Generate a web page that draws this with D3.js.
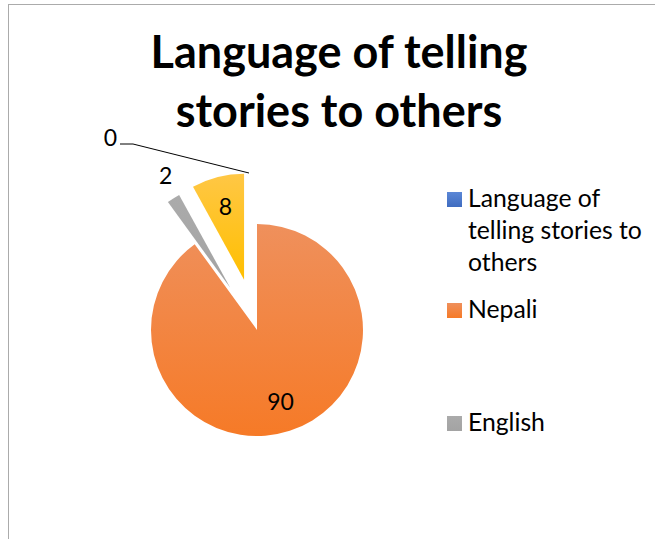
<!DOCTYPE html>
<html>
<head>
<meta charset="utf-8">
<script src="https://cdn.jsdelivr.net/npm/d3@7"></script>
<style>
  body { margin: 0; background: #fff; }
  svg text { font-family: Lato, "Open Sans", sans-serif; fill: #000; }
</style>
</head>
<body>
<svg id="chart" width="655" height="539"></svg>
<script>
// datos del gráfico
const titleLines = ["Language of telling", "stories to others"];
const categories = ["Language of telling stories to others", "Nepali", "English", "Other"];
const values = [0, 90, 2, 8];
const legendLines = [["Language of", "telling stories to", "others"], ["Nepali"], ["English"]];

const width = 655, height = 539;
const center = {x: 257, y: 330};
const radius = 106;

const svg = d3.select("#chart");

// marco del gráfico
svg.append("rect")
  .attr("x", 8.5).attr("y", 4.5)
  .attr("width", width + 20).attr("height", height + 20)
  .attr("fill", "#fff")
  .attr("stroke", "#ababab")
  .attr("stroke-width", 1);

// degradados tipo Excel
const defs = svg.append("defs");
const gradients = [
  ["g0", "#5b87d6", "#3f6cc0"],
  ["g1", "#ef905c", "#f67a27"],
  ["g2", "#ababab", "#a3a3a3"],
  ["g3", "#ffc745", "#ffbf00"]
];
gradients.forEach(([id, top, bottom]) => {
  const g = defs.append("linearGradient").attr("id", id)
    .attr("x1", 0).attr("y1", 0).attr("x2", 0).attr("y2", 1);
  g.append("stop").attr("offset", "0%").attr("stop-color", top);
  g.append("stop").attr("offset", "100%").attr("stop-color", bottom);
});

// título
const title = svg.append("g");
titleLines.forEach((line, i) => {
  title.append("text")
    .attr("x", 339)
    .attr("y", 68 + i * 59)
    .attr("text-anchor", "middle")
    .attr("font-weight", "bold")
    .attr("font-size", 40)
    .text(line);
});
// ajustar al ancho de la primera línea
const t0 = title.select("text").node();
const fit = 377 / t0.getComputedTextLength();
title.selectAll("text").attr("font-size", 40 * fit);

// pastel
const pie = d3.pie().sort(null).value(d => d)(values);
const arc = d3.arc().innerRadius(0).outerRadius(radius);
const explode = [50, 0, 50, 52];
const labelRadius = [0, 76, 126, 75];

function offset(d, dist) {
  const a = (d.startAngle + d.endAngle) / 2;
  return [Math.sin(a) * dist, -Math.cos(a) * dist];
}

const slices = svg.append("g")
  .attr("transform", "translate(" + center.x + "," + center.y + ")");

slices.selectAll("path")
  .data(pie)
  .enter()
  .append("path")
    .attr("transform", (d, i) => "translate(" + offset(d, explode[i]) + ")")
    .attr("d", arc)
    .attr("fill", (d, i) => "url(#g" + i + ")");

// etiquetas de datos
pie.forEach((d, i) => {
  const [ox, oy] = offset(d, explode[i]);
  if (i === 0) {
    // etiqueta con línea guía
    const [ex, ey] = offset(d, radius + explode[i]);
    const end = [ex - 8, ey - 1];
    const elbow = [end[0] - 116, end[1] - 29];
    slices.append("polyline")
      .attr("points", [end, elbow, [elbow[0] - 13, elbow[1]]].map(p => p.join(",")).join(" "))
      .attr("fill", "none")
      .attr("stroke", "#000")
      .attr("stroke-width", 1);
    slices.append("text")
      .attr("x", elbow[0] - 16)
      .attr("y", elbow[1] + 2)
      .attr("text-anchor", "end")
      .attr("font-size", 23)
      .text(values[i]);
    return;
  }
  const [lx, ly] = offset(d, labelRadius[i]);
  slices.append("text")
    .attr("x", ox + lx + (i === 2 ? 3 : 0))
    .attr("y", oy + ly + (i === 2 ? -5 : 0))
    .attr("dy", "0.35em")
    .attr("text-anchor", "middle")
    .attr("font-size", 23)
    .text(values[i]);
});

// leyenda
const legendY = [207, 318, 431];
const legend = svg.append("g");
legendLines.forEach((lines, i) => {
  legend.append("rect")
    .attr("x", 447).attr("y", legendY[i] - 15)
    .attr("width", 15).attr("height", 15)
    .attr("fill", "url(#g" + i + ")");
  lines.forEach((line, j) => {
    legend.append("text")
      .attr("class", "leg")
      .attr("x", 468)
      .attr("y", legendY[i] + j * 32)
      .attr("font-size", 22)
      .text(line);
  });
});
// ajustar tamaño de la leyenda
const ref = legend.selectAll("text.leg").nodes()[1];
const legFit = 174 / ref.getComputedTextLength();
legend.selectAll("text.leg").attr("font-size", 22 * legFit);
</script>
</body>
</html>
